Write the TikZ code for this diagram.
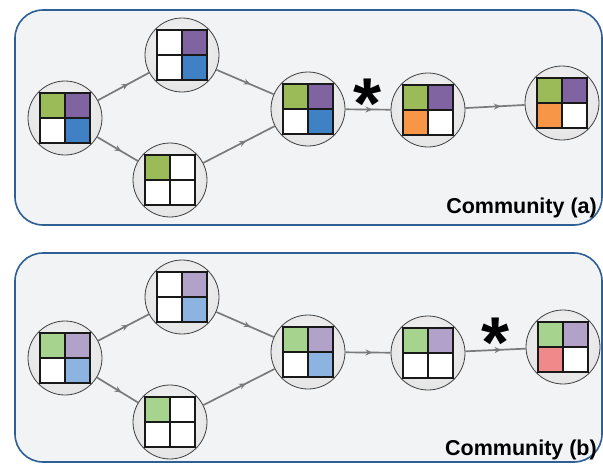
\documentclass[tikz,border=0pt]{standalone}
\usepackage{fontspec}
\newfontfamily\labfont{Liberation Sans}
\usetikzlibrary{arrows.meta,decorations.markings}
\definecolor{panelfill}{HTML}{F1F3F5}
\definecolor{panelline}{HTML}{2E5F95}
\definecolor{cgreen}{HTML}{9BBB59}
\definecolor{cpurple}{HTML}{8064A2}
\definecolor{cblue}{HTML}{4080C4}
\definecolor{corange}{HTML}{F79646}
\definecolor{lgreen}{HTML}{A6D48E}
\definecolor{lpurple}{HTML}{B2A1C9}
\definecolor{lblue}{HTML}{8DB4E0}
\definecolor{lpink}{HTML}{F08A8A}
\definecolor{linkgray}{HTML}{7A7A7A}
\pgfdeclareradialshading{ballshade}{\pgfpoint{0bp}{8bp}}{%
  color(0bp)=(black!4); color(28bp)=(black!10); color(42bp)=(black!20); color(50bp)=(black!34); color(60bp)=(black!38)}
\tikzset{
  panel/.style={draw=panelline,fill=panelfill,line width=1.6pt,rounded corners=28pt},
  gnode/.style={circle,minimum size=74pt,inner sep=0pt,draw=black!75,line width=0.8pt,
    shading=ballshade},
  link/.style={draw=linkgray,line width=1.7pt,
    postaction={decorate},
    decoration={markings,mark=at position 0.6 with {\arrow[linkgray]{Stealth[length=7pt,width=6pt]}}}},
  lab/.style={font=\labfont\bfseries\fontsize{21.5}{24}\selectfont,inner sep=0pt},
  starlab/.style={font=\labfont\bfseries\fontsize{72}{72}\selectfont,inner sep=0pt}
}
\newcommand\gridnode[6]{%
  \node[gnode] (#1) at (#2) {};
  \begin{scope}[shift={(#1.center)}]
    \fill[#3] (-25,-25) rectangle (0,0);
    \fill[#4] (0,-25) rectangle (25,0);
    \fill[#5] (-25,0) rectangle (0,25);
    \fill[#6] (0,0) rectangle (25,25);
    \draw[line width=2.6pt,black!90] (-25,-25) rectangle (25,25) (0,-25) -- (0,25) (-25,0) -- (25,0);
  \end{scope}}
\begin{document}
\begin{tikzpicture}[x=1pt,y=-1pt]
\useasboundingbox (0,0) rectangle (603,464);
\fill[white] (0,0) rectangle (603,464);
% panels
\draw[panel] (15,10) rectangle (602,225);
\draw[panel] (15,253) rectangle (602,462);
% top community
\gridnode{a1}{65,118}{cgreen}{cpurple}{white}{cblue}
\gridnode{b1}{182,55}{white}{cpurple}{white}{cblue}
\gridnode{c1}{170,180}{cgreen}{white}{white}{white}
\gridnode{d1}{308,109}{cgreen}{cpurple}{white}{cblue}
\gridnode{e1}{428,110}{cgreen}{cpurple}{corange}{white}
\gridnode{f1}{562,103}{cgreen}{cpurple}{corange}{white}
\path[link] (a1) -- (b1);
\path[link] (a1) -- (c1);
\path[link] (b1) -- (d1);
\path[link] (c1) -- (d1);
\path[link] (d1) -- (e1);
\path[link] (e1) -- (f1);
\node[starlab,anchor=base] (s1) at (368,128) {*};
\node[lab,anchor=base east] (t1) at (597,213) {Community (a)};
% bottom community
\gridnode{a2}{65,358}{lgreen}{lpurple}{white}{lblue}
\gridnode{b2}{182,297}{white}{lpurple}{white}{lblue}
\gridnode{c2}{170,422}{lgreen}{white}{white}{white}
\gridnode{d2}{308,352}{lgreen}{lpurple}{white}{lblue}
\gridnode{e2}{428,353}{lgreen}{lpurple}{white}{white}
\gridnode{f2}{563,347}{lgreen}{lpurple}{lpink}{white}
\path[link] (a2) -- (b2);
\path[link] (a2) -- (c2);
\path[link] (b2) -- (d2);
\path[link] (c2) -- (d2);
\path[link] (d2) -- (e2);
\path[link] (e2) -- (f2);
\node[starlab,anchor=base] (s2) at (496,367) {*};
\node[lab,anchor=base east] (t2) at (597,455) {Community (b)};
\end{tikzpicture}
\end{document}
